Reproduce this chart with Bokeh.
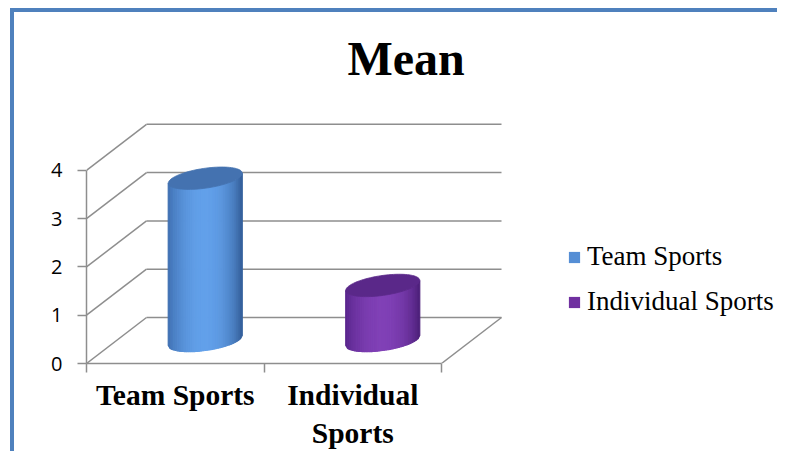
import numpy as np
from bokeh.plotting import figure
from bokeh.models import Range1d, LinearAxis, FixedTicker, Legend, LegendItem
from bokeh.embed import file_html
from bokeh.resources import INLINE

# ---------------- data ----------------
categories = ["Team Sports", "Individual Sports"]
axis_labels = ["Team Sports", "Individual\nSports"]
means = [3.36, 1.14]
y_ticks = [0, 1, 2, 3, 4]
title_text = "Mean"

legend_colors = ["#558ED5", "#7030A0"]
edge_left = ["#3D6DAE", "#57248A"]
edge_right = ["#325C96", "#4A1E76"]
highlight = ["#62A0EA", "#8040B6"]
top_colors = ["#4472B0", "#5A2889"]

# ---------------- layout (pixels) ----------------
W, H = 767, 443
B_LEFT, B_BOTTOM, B_TOP = 72, 92, 83
PX_X, PX_Y = 177.5, 48.3          # pixels per data unit
frame_w = W - B_LEFT
frame_h = H - B_TOP - B_BOTTOM
x0 = -0.5
x1 = x0 + len(categories)
DX, DY = 60 / PX_X, 46 / PX_Y      # depth offset of the 3-D box
GRID = "#8E8E8E"

p = figure(width=W, height=H, output_backend="svg", toolbar_location=None,
           x_range=Range1d(x0, x0 + frame_w / PX_X),
           y_range=Range1d(0, frame_h / PX_Y),
           x_axis_type=None, y_axis_type=None,
           min_border_left=B_LEFT, min_border_right=0,
           min_border_top=B_TOP, min_border_bottom=B_BOTTOM)
p.outline_line_color = None
p.background_fill_color = "white"
p.border_fill_color = "white"
p.styles = {"border-left": "4px solid #4F81BD", "border-top": "4px solid #4F81BD",
            "margin-left": "10px", "margin-top": "8px"}

p.title.text = title_text
p.title.text_font = "Liberation Serif"
p.title.text_font_style = "bold"
p.title.text_font_size = "48px"
p.title.text_color = "black"
p.title.align = "left"
p.title.offset = 261
p.title.standoff = 22

# ---------------- axes ----------------
yax = LinearAxis(ticker=FixedTicker(ticks=y_ticks, minor_ticks=[]), bounds=(min(y_ticks), max(y_ticks)))
yax.axis_line_color = GRID
yax.axis_line_width = 1.5
yax.major_tick_line_color = GRID
yax.major_tick_line_width = 1.5
yax.major_tick_out = 9
yax.major_tick_in = 0
yax.minor_tick_line_color = None
yax.major_label_text_font = "Open Sans"
yax.major_label_text_font_size = "20px"
yax.major_label_text_color = "black"
yax.major_label_standoff = 15
p.add_layout(yax, "left")

cat_pos = list(range(len(categories)))
bounds = [x0 + i for i in range(len(categories) + 1)]
xax = LinearAxis(ticker=FixedTicker(ticks=cat_pos, minor_ticks=bounds), bounds=(x0, x1))
xax.major_label_overrides = {i: lab for i, lab in zip(cat_pos, axis_labels)}
xax.axis_line_color = GRID
xax.axis_line_width = 1.5
xax.major_tick_line_color = None
xax.major_tick_out = 7
xax.minor_tick_line_color = GRID
xax.minor_tick_line_width = 1.5
xax.minor_tick_out = 9
xax.minor_tick_in = 0
xax.major_label_text_font = "Liberation Serif"
xax.major_label_text_font_style = "bold"
xax.major_label_text_font_size = "29.5px"
xax.major_label_text_color = "black"
xax.major_label_standoff = 6
p.add_layout(xax, "below")

# ---------------- 3-D box grid ----------------
xs, ys = [], []
for t in y_ticks:
    xs.append([x0 + DX, x1 + DX]); ys.append([t + DY, t + DY])   # back wall
    xs.append([x0, x0 + DX]); ys.append([t, t + DY])             # side wall
xs.append([x1, x1 + DX]); ys.append([0, DY])                     # floor edge
p.multi_line(xs, ys, line_color=GRID, line_width=1.5)

# ---------------- cylinders ----------------
def hex2rgb(h):
    h = h.lstrip("#")
    return np.array([int(h[i:i + 2], 16) for i in (0, 2, 4)], dtype=float)

def rgb2hex(c):
    c = np.clip(np.round(c), 0, 255).astype(int)
    return "#%02x%02x%02x" % tuple(c)

A = 37 / PX_X          # horizontal radius
Bv = 10 / PX_Y         # vertical radius of the ellipse
TILT = 5 / PX_Y        # left side lower / right side higher
N = 40
u = np.linspace(-1, 1, N + 1)
for i, v in enumerate(means):
    cx = cat_pos[i] + DX / 2
    cyb = DY / 2
    cyt = v + DY / 2
    xx = cx + A * u
    yb = cyb - Bv * np.sqrt(np.clip(1 - u ** 2, 0, 1)) + TILT * u
    yt = cyt - Bv * np.sqrt(np.clip(1 - u ** 2, 0, 1)) + TILT * u
    sx, sy, cols = [], [], []
    el, er, hi = hex2rgb(edge_left[i]), hex2rgb(edge_right[i]), hex2rgb(highlight[i])
    for k in range(N):
        um = (u[k] + u[k + 1]) / 2
        ang = np.arcsin(np.clip(um, -1, 1))
        inten = max(0.0, np.cos(ang)) ** 1.6
        base = el + (er - el) * (um + 1) / 2
        col = base + (hi - base) * inten
        sx.append([xx[k], xx[k + 1], xx[k + 1], xx[k]])
        sy.append([yb[k], yb[k + 1], yt[k + 1], yt[k]])
        cols.append(rgb2hex(col))
    p.patches(sx, sy, fill_color=cols, line_color=cols, line_width=1.2)
    th = np.linspace(0, 2 * np.pi, 90)
    ex = cx + A * np.cos(th)
    ey = cyt + Bv * np.sin(th) + TILT * np.cos(th)
    p.patch(ex, ey, fill_color=top_colors[i], line_color=top_colors[i], line_width=0.8)

# ---------------- legend ----------------
items = []
for i, c in enumerate(categories):
    r = p.quad(left=[x0], right=[x0], top=[0], bottom=[0],
               fill_color=legend_colors[i], line_color=None)
    items.append(LegendItem(label=c, renderers=[r]))
legend = Legend(items=items, location=(481, 46), glyph_width=14, glyph_height=14,
                label_standoff=6, spacing=14, padding=0, margin=0,
                border_line_color=None, background_fill_alpha=0,
                label_text_font="Liberation Serif", label_text_font_size="27px",
                label_text_color="black")
p.add_layout(legend)

open("out.html", "w").write(file_html(p, INLINE))
